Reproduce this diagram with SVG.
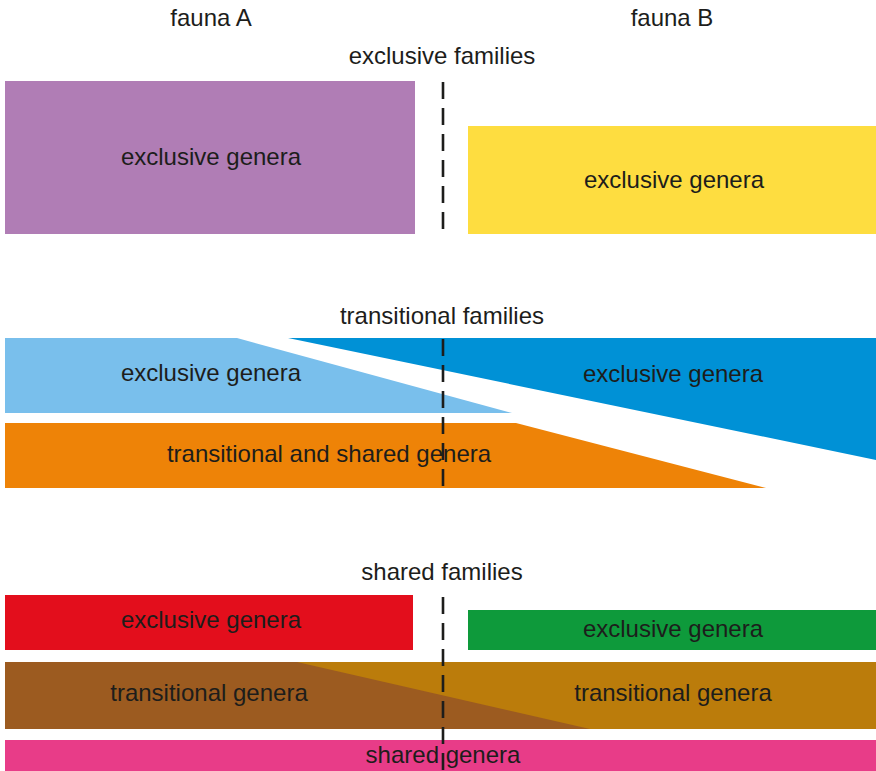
<svg xmlns="http://www.w3.org/2000/svg" width="876" height="771" viewBox="0 0 876 771">
<style>
text{font-family:"Liberation Sans",Arial,sans-serif;font-size:24px;fill:#1d1d1b;text-anchor:middle}
.dash{stroke:#1d1d1b;stroke-width:2.6;stroke-dasharray:17 9;fill:none}
</style>
<rect width="876" height="771" fill="#fff"/>
<g id="headers">
<text x="211" y="26">fauna A</text>
<text x="672" y="26">fauna B</text>
</g>
<g id="exclusive-families">
<text x="442" y="64">exclusive families</text>
<g id="ef-a"><rect x="5" y="81" width="410" height="153" fill="#b07db5"/><text x="211" y="165">exclusive genera</text></g>
<g id="ef-b"><rect x="468" y="126" width="408" height="108" fill="#fedd40"/><text x="674" y="188">exclusive genera</text></g>
</g>
<g id="transitional-families">
<text x="442" y="324">transitional families</text>
<g id="tf-a"><polygon points="5,338 237,338 512,413 5,413" fill="#79bfec"/><text x="211" y="381">exclusive genera</text></g>
<g id="tf-b"><polygon points="288,338 876,338 876,460" fill="#0091d6"/><text x="673" y="382">exclusive genera</text></g>
<g id="tf-shared"><polygon points="5,423 516,423 766,488 5,488" fill="#ee8307"/><text x="329" y="462">transitional and shared genera</text></g>
</g>
<g id="shared-families">
<text x="442" y="580">shared families</text>
<g id="sf-a"><rect x="5" y="595" width="408" height="55" fill="#e30e1c"/><text x="211" y="628">exclusive genera</text></g>
<g id="sf-b"><rect x="468" y="610" width="408" height="40" fill="#0e9a3b"/><text x="673" y="637">exclusive genera</text></g>
<g id="sf-trans">
<rect x="5" y="662" width="871" height="67" fill="#bb7c0b"/>
<polygon points="5,662 297,662 590,729 5,729" fill="#9c5b20"/>
<text x="209" y="701">transitional genera</text>
<text x="673" y="701">transitional genera</text>
</g>
<g id="sf-shared"><rect x="5" y="740" width="871" height="31" fill="#e83c88"/><text x="443" y="763">shared genera</text></g>
</g>
<g id="connectors">
<line class="dash" x1="443" y1="82" x2="443" y2="234"/>
<line class="dash" x1="443" y1="339" x2="443" y2="488"/>
<line class="dash" x1="443" y1="597" x2="443" y2="771"/>
</g>
</svg>
